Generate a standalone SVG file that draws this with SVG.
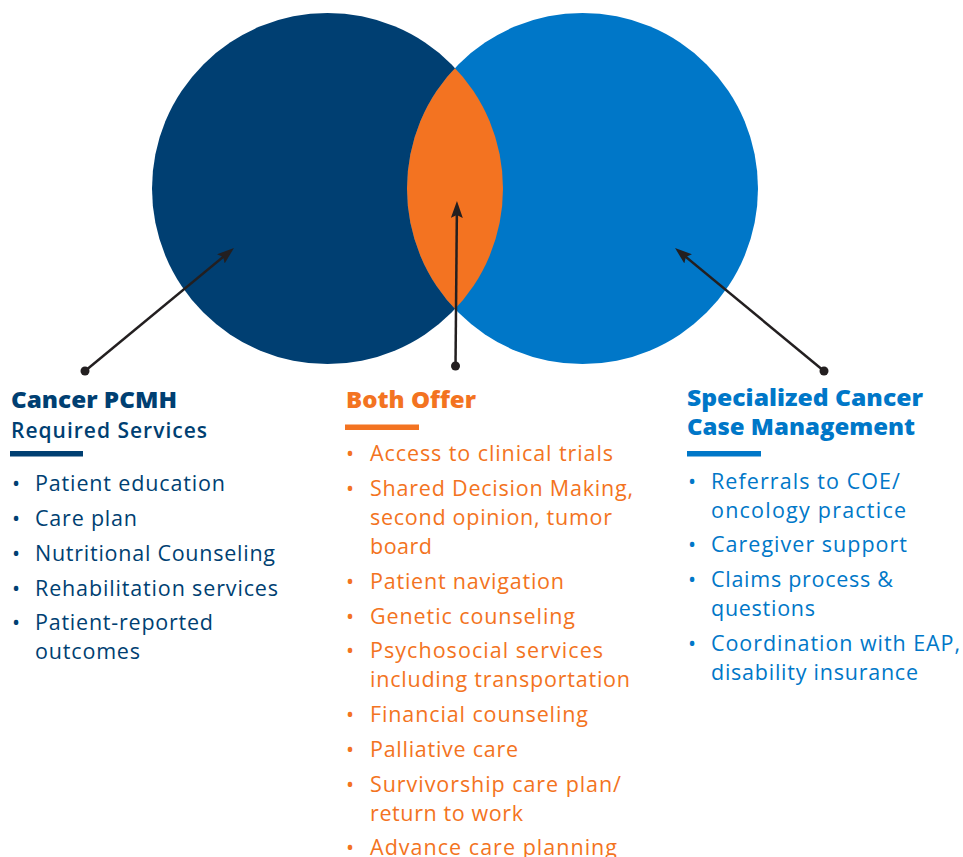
<svg xmlns="http://www.w3.org/2000/svg" width="963" height="857" viewBox="0 0 963 857">
<defs>
<style>
.body{font-family:"Open Sans","Liberation Sans",sans-serif;font-size:21.5px;}
.h{font-family:"Open Sans","Liberation Sans",sans-serif;font-weight:800;font-size:23px;}
.sub{font-family:"Open Sans","Liberation Sans",sans-serif;font-weight:600;font-size:21px;}
.navy{fill:#003F72;}
.blue{fill:#0077C8;}
.orange{fill:#F37321;}
.conn{stroke:#231F20;stroke-width:2.5;fill:none;}
</style>
<marker id="ah" viewBox="0 0 17 12" refX="9" refY="6" markerWidth="17" markerHeight="12" markerUnits="userSpaceOnUse" orient="auto">
<path d="M0,0 L17,6 L0,12 L3,6 Z" fill="#231F20"/>
</marker>
<clipPath id="clipL"><circle cx="327.5" cy="188.5" r="175.5"/></clipPath>
</defs>
<g id="venn">
<circle id="circle-left" cx="327.5" cy="188.5" r="175.5" fill="#003F72"/>
<circle id="circle-right" cx="582.5" cy="188.5" r="175.5" fill="#0077C8"/>
<circle id="lens" cx="582.5" cy="188.5" r="175.5" fill="#F37321" clip-path="url(#clipL)"/>
</g>
<g id="connectors">
<line class="conn" x1="85" y1="371" x2="227.8" y2="253.1" marker-end="url(#ah)"/>
<line class="conn" x1="455.5" y1="366" x2="456.9" y2="209" marker-end="url(#ah)"/>
<line class="conn" x1="824" y1="371" x2="681.2" y2="253.1" marker-end="url(#ah)"/>
<circle cx="85" cy="371" r="4.5" fill="#231F20"/>
<circle cx="455.5" cy="366" r="4.5" fill="#231F20"/>
<circle cx="824" cy="371" r="4.5" fill="#231F20"/>
</g>
<g id="pcmh">
<text class="h navy" x="11" y="408" textLength="166" lengthAdjust="spacingAndGlyphs">Cancer PCMH</text>
<text class="sub navy" x="11" y="438" textLength="196" lengthAdjust="spacing">Required Services</text>
<rect x="10" y="451" width="73" height="5.5" class="navy"/>
<g class="body navy">
<text x="12" y="491">•</text><text x="35" y="491" textLength="190" lengthAdjust="spacing">Patient education</text>
<text x="12" y="526">•</text><text x="35" y="526" textLength="102" lengthAdjust="spacing">Care plan</text>
<text x="12" y="561">•</text><text x="35" y="561" textLength="240" lengthAdjust="spacing">Nutritional Counseling</text>
<text x="12" y="596">•</text><text x="35" y="596" textLength="243" lengthAdjust="spacing">Rehabilitation services</text>
<text x="12" y="630">•</text><text x="35" y="630" textLength="178" lengthAdjust="spacing">Patient-reported</text>
<text x="35" y="659" textLength="105" lengthAdjust="spacing">outcomes</text>
</g>
</g>
<g id="both">
<text class="h orange" x="346" y="408" textLength="130" lengthAdjust="spacingAndGlyphs">Both Offer</text>
<rect x="345" y="424.5" width="74" height="5.5" class="orange"/>
<g class="body orange">
<text x="346" y="461">•</text><text x="370" y="461" textLength="243" lengthAdjust="spacing">Access to clinical trials</text>
<text x="346" y="496">•</text><text x="370" y="496" textLength="263" lengthAdjust="spacing">Shared Decision Making,</text>
<text x="370" y="525" textLength="242" lengthAdjust="spacing">second opinion, tumor</text>
<text x="370" y="553.5" textLength="62" lengthAdjust="spacing">board</text>
<text x="346" y="589">•</text><text x="370" y="589" textLength="194" lengthAdjust="spacing">Patient navigation</text>
<text x="346" y="623.5">•</text><text x="370" y="623.5" textLength="205" lengthAdjust="spacing">Genetic counseling</text>
<text x="346" y="657.5">•</text><text x="370" y="657.5" textLength="233" lengthAdjust="spacing">Psychosocial services</text>
<text x="370" y="687" textLength="260" lengthAdjust="spacing">including transportation</text>
<text x="346" y="722">•</text><text x="370" y="722" textLength="218" lengthAdjust="spacing">Financial counseling</text>
<text x="346" y="756.5">•</text><text x="370" y="756.5" textLength="148" lengthAdjust="spacing">Palliative care</text>
<text x="346" y="791.5">•</text><text x="370" y="791.5" textLength="251" lengthAdjust="spacing">Survivorship care plan/</text>
<text x="370" y="820.5" textLength="153" lengthAdjust="spacing">return to work</text>
<text x="346" y="855">•</text><text x="370" y="855" textLength="247" lengthAdjust="spacing">Advance care planning</text>
</g>
</g>
<g id="casemgmt">
<text class="h blue" x="687" y="406" textLength="236" lengthAdjust="spacingAndGlyphs">Specialized Cancer</text>
<text class="h blue" x="687" y="435" textLength="228" lengthAdjust="spacingAndGlyphs">Case Management</text>
<rect x="687" y="451" width="74" height="5.5" class="blue"/>
<g class="body blue">
<text x="688" y="488.5">•</text><text x="711" y="488.5" textLength="189" lengthAdjust="spacing">Referrals to COE/</text>
<text x="711" y="517.5" textLength="195" lengthAdjust="spacing">oncology practice</text>
<text x="688" y="552">•</text><text x="711" y="552" textLength="196" lengthAdjust="spacing">Caregiver support</text>
<text x="688" y="587">•</text><text x="711" y="587" textLength="182" lengthAdjust="spacing">Claims process &amp;</text>
<text x="711" y="615.5" textLength="104" lengthAdjust="spacing">questions</text>
<text x="688" y="651">•</text><text x="711" y="651" textLength="249" lengthAdjust="spacing">Coordination with EAP,</text>
<text x="711" y="680" textLength="207" lengthAdjust="spacing">disability insurance</text>
</g>
</g>
</svg>
